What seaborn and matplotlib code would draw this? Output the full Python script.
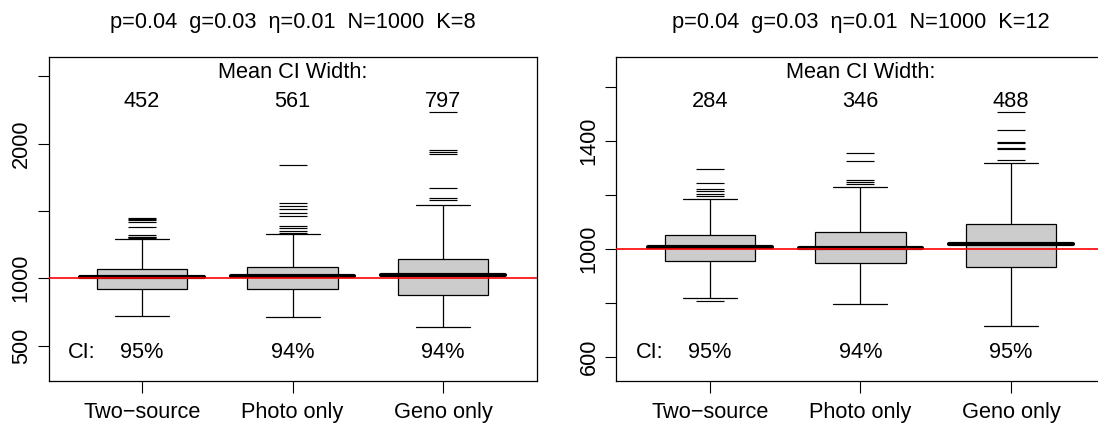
import numpy as np
import pandas as pd
import matplotlib
matplotlib.use("Agg")
import matplotlib.pyplot as plt
import matplotlib.transforms as mtransforms
import seaborn as sns

# ---------------- data ----------------
methods = ["Two\u2212source", "Photo only", "Geno only"]
true_value = 1000

# Panel K=8
k8_title = "p=0.04  g=0.03  \u03b7=0.01  N=1000  K=8"
k8_whisker_low = [723, 715, 641]
k8_q1 = [920, 917, 872]
k8_median = [1007, 1016, 1023]
k8_q3 = [1071, 1083, 1143]
k8_whisker_high = [1290, 1329, 1547]
k8_outliers_two_source = [1448, 1440, 1432, 1418, 1384, 1322, 1310, 1303, 1298]
k8_outliers_photo = [1840, 1557, 1537, 1513, 1488, 1463, 1389, 1376, 1351, 1337]
k8_outliers_geno = [2236, 1953, 1938, 1923, 1671, 1597, 1585]
k8_mean_ci_width = [452, 561, 797]
k8_coverage = [95, 94, 94]
k8_yticks = [500, 1000, 1500, 2000, 2500]
k8_ylabels = ["500", "1000", "", "2000", ""]
k8_ylim = (237, 2647)

# Panel K=12
k12_title = "p=0.04  g=0.03  \u03b7=0.01  N=1000  K=12"
k12_whisker_low = [818, 795, 713]
k12_q1 = [955, 947, 932]
k12_median = [1007, 1003, 1017]
k12_q3 = [1051, 1061, 1092]
k12_whisker_high = [1187, 1230, 1320]
k12_outliers_two_source = [1298, 1246, 1223, 1216, 1204, 1198, 808]
k12_outliers_photo = [1355, 1328, 1257, 1250, 1241]
k12_outliers_geno = [1509, 1442, 1398, 1392, 1376, 1372, 1331]
k12_mean_ci_width = [284, 346, 488]
k12_coverage = [95, 94, 95]
k12_yticks = [600, 800, 1000, 1200, 1400, 1600]
k12_ylabels = ["600", "", "1000", "", "1400", ""]
k12_ylim = (510, 1714)

# ---------------- style ----------------
sns.set_theme(style="white")
plt.rcParams["font.family"] = ["Liberation Sans", "DejaVu Sans"]
plt.rcParams["text.color"] = "black"
plt.rcParams["axes.labelcolor"] = "black"
plt.rcParams["xtick.color"] = "black"
plt.rcParams["ytick.color"] = "black"
plt.rcParams["xtick.labelcolor"] = "black"
plt.rcParams["ytick.labelcolor"] = "black"
plt.rcParams["axes.titlecolor"] = "black"
FS = 15.7


def draw_panel(ax, title, wlo, q1, med, q3, whi, outliers, widths, coverage,
               yticks, ylabels, ylim):
    # box summary table (five numbers per method -> exact box & whiskers)
    rows = []
    for m, a, b, c, d, e in zip(methods, wlo, q1, med, q3, whi):
        for v in (a, b, c, d, e):
            rows.append({"method": m, "value": v})
    box_df = pd.DataFrame(rows)

    out_rows = []
    for m, vals in zip(methods, outliers):
        for v in vals:
            out_rows.append({"method": m, "value": v})
    out_df = pd.DataFrame(out_rows)

    common = dict(data=box_df, x="method", y="value", order=methods,
                  whis=(0, 100), width=0.6, color="#cccccc", saturation=1,
                  linecolor="black", linewidth=0.9, showfliers=False, ax=ax)
    try:
        sns.boxplot(capwidths=0.36, **common)
    except TypeError:
        sns.boxplot(**common)

    sns.stripplot(data=out_df, x="method", y="value", order=methods,
                  jitter=False, marker="_", size=19.8, linewidth=0.85,
                  color="black", ax=ax, zorder=3)

    pos = np.arange(len(methods))
    ax.hlines(med, pos - 0.41, pos + 0.41, colors="black", lw=3.0,
              capstyle="round", zorder=4)
    ax.axhline(true_value, color="red", lw=1.2, zorder=5)

    ax.set_xlim(-0.62, 2.62)
    ax.set_ylim(*ylim)

    trans = mtransforms.blended_transform_factory(ax.transData, ax.transAxes)
    ax.text(1, 0.9328, "Mean CI Width:", ha="center", va="baseline",
            transform=trans, fontsize=FS, color="black")
    for i, w in enumerate(widths):
        ax.text(i, 0.8453, str(w), ha="center", va="baseline",
                transform=trans, fontsize=FS, color="black")
    ax.text(-0.4, 0.070, "CI:", ha="center", va="baseline",
            transform=trans, fontsize=FS, color="black")
    for i, c in enumerate(coverage):
        ax.text(i, 0.070, f"{c}%", ha="center", va="baseline",
                transform=trans, fontsize=FS, color="black")

    ax.set_xticks(pos, methods)
    ax.set_yticks(yticks, ylabels)
    ax.tick_params(axis="x", length=8.4, width=0.8, pad=6.8, labelsize=FS,
                   color="black", labelcolor="black", bottom=True)
    ax.tick_params(axis="y", length=8.2, width=0.8, pad=4, labelsize=FS,
                   color="black", labelcolor="black", left=True,
                   labelrotation=90)
    for lab in ax.get_yticklabels():
        lab.set_va("center")
    ax.set_xlabel("")
    ax.set_ylabel("")
    for sp in ax.spines.values():
        sp.set_visible(True)
        sp.set_color("black")
        sp.set_linewidth(0.9)
    ax.set_title(title, fontsize=FS, pad=20.5, color="black")


fig = plt.figure(figsize=(10.98, 4.23), dpi=100)
ax1 = fig.add_axes([0.04435, 0.0993, 0.4443, 0.7671])
ax2 = fig.add_axes([0.5614, 0.0993, 0.4443, 0.7671])

draw_panel(ax1, k8_title, k8_whisker_low, k8_q1, k8_median, k8_q3,
           k8_whisker_high,
           [k8_outliers_two_source, k8_outliers_photo, k8_outliers_geno],
           k8_mean_ci_width, k8_coverage, k8_yticks, k8_ylabels, k8_ylim)
draw_panel(ax2, k12_title, k12_whisker_low, k12_q1, k12_median, k12_q3,
           k12_whisker_high,
           [k12_outliers_two_source, k12_outliers_photo, k12_outliers_geno],
           k12_mean_ci_width, k12_coverage, k12_yticks, k12_ylabels, k12_ylim)

fig.savefig("out.png", dpi=100, facecolor="white")
